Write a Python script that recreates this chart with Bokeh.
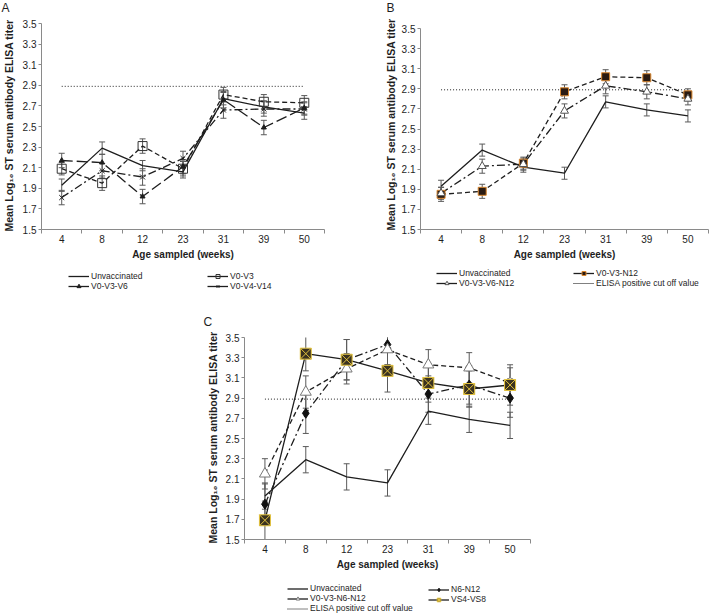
import math
from bokeh.plotting import figure
from bokeh.models import FixedTicker, PrintfTickFormatter, Legend, LegendItem, Label, Spacer
from bokeh.layouts import column, row
from bokeh.embed import file_html
from bokeh.resources import INLINE

# ---------------- data ----------------
weeks = ["4", "8", "12", "23", "31", "39", "50"]
y_ticks = [1.5, 1.7, 1.9, 2.1, 2.3, 2.5, 2.7, 2.9, 3.1, 3.3, 3.5]
cutoff = 2.89

unvaccinated = [1.93, 2.29, 2.12, 2.06, 2.77, 2.69, 2.63]
unvaccinated_err = [0.06, 0.06, 0.05, 0.06, 0.06, 0.06, 0.06]
unvaccinated_err_c = [0.13, 0.13, 0.13, 0.13, 0.13, 0.13, 0.13]

a_v0_v3 = [2.09, 1.95, 2.31, 2.09, 2.81, 2.74, 2.73]
a_v0_v3_err = [0.06, 0.07, 0.07, 0.07, 0.07, 0.07, 0.07]
a_v0_v3_v6 = [2.17, 2.15, 1.82, 2.11, 2.76, 2.49, 2.68]
a_v0_v3_v6_err = [0.07, 0.08, 0.07, 0.07, 0.08, 0.07, 0.06]
a_v0_v4_v14 = [1.81, 2.07, 2.01, 2.19, 2.66, 2.67, 2.67]
a_v0_v4_v14_err = [0.07, 0.07, 0.08, 0.07, 0.08, 0.07, 0.06]

b_v0_v3_n12 = [1.85, 1.88, 2.16, 2.87, 3.02, 3.01, 2.84]
b_v0_v3_n12_err = [0.07, 0.07, 0.06, 0.07, 0.07, 0.07, 0.06]
b_v0_v3_v6_n12 = [1.86, 2.13, 2.15, 2.68, 2.93, 2.87, 2.80]
b_v0_v3_v6_n12_err = [0.06, 0.07, 0.06, 0.07, 0.08, 0.07, 0.06]

c_n6_n12 = [1.85, 2.75, 3.28, 3.43, 2.94, 3.03, 2.90]
c_n6_n12_err = [0.20, 0.20, 0.20, 0.20, 0.18, 0.19, 0.19]
c_v0_v3_n6_n12 = [2.15, 2.96, 3.19, 3.38, 3.23, 3.20, 3.05]
c_v0_v3_n6_n12_err = [0.15, 0.16, 0.15, 0.15, 0.15, 0.15, 0.15]
c_vs4_vs8 = [1.69, 3.34, 3.28, 3.17, 3.05, 2.99, 3.03]
c_vs4_vs8_err = [0.19, 0.17, 0.20, 0.21, 0.19, 0.18, 0.20]

# ---------------- styling ----------------
FONT = "Liberation Sans"
INK = "#1e1e1e"
ERR = "#5a5a5a"
AXIS = "#8a8a8a"
YTITLE = "Mean Log\u2081\u2080 ST serum antibody ELISA titer"
NAN = [float("nan")]
xs = list(range(1, len(weeks) + 1))
bounds = [i + 0.5 for i in range(len(weeks) + 1)]


def blank_fig(w, h):
    f = figure(width=w, height=h, x_range=(0, 1), y_range=(0, 1), output_backend="svg",
               toolbar_location=None, min_border=0, x_axis_location=None,
               y_axis_location=None)
    f.frame_align = False
    f.outline_line_color = None
    f.grid.visible = False
    return f


def base_fig(width, height, bl, br, bt, bb):
    p = figure(width=width, height=height, x_range=(0.5, len(weeks) + 0.5),
               y_range=(y_ticks[0], y_ticks[-1]), output_backend="svg",
               toolbar_location=None, min_border_left=bl, min_border_right=br,
               min_border_top=bt, min_border_bottom=bb)
    p.outline_line_color = None
    p.xgrid.visible = False
    p.ygrid.visible = False
    xa = p.xaxis[0]
    xa.ticker = FixedTicker(ticks=xs, minor_ticks=bounds)
    xa.major_label_overrides = {x: w for x, w in zip(xs, weeks)}
    xa.major_tick_out = 0
    xa.major_tick_in = 0
    xa.minor_tick_out = 4
    xa.minor_tick_in = 0
    xa.axis_line_color = AXIS
    xa.minor_tick_line_color = AXIS
    xa.major_label_text_font = FONT
    xa.major_label_text_font_size = "10px"
    xa.major_label_text_color = INK
    xa.major_label_standoff = 1
    xa.axis_label = "Age sampled (weeks)"
    xa.axis_label_text_font = FONT
    xa.axis_label_text_font_style = "bold"
    xa.axis_label_text_font_size = "10px"
    xa.axis_label_text_color = INK
    xa.axis_label_standoff = 3
    ya = p.yaxis[0]
    ya.ticker = FixedTicker(ticks=y_ticks, minor_ticks=[])
    ya.formatter = PrintfTickFormatter(format="%.1f")
    ya.major_tick_out = 3
    ya.major_tick_in = 0
    ya.minor_tick_out = 0
    ya.minor_tick_in = 0
    ya.axis_line_color = AXIS
    ya.major_tick_line_color = AXIS
    ya.major_label_text_font = FONT
    ya.major_label_text_font_size = "10px"
    ya.major_label_text_color = INK
    ya.major_label_standoff = 2
    return p


def draw(p, series):
    for s in series:
        lo = [v - e for v, e in zip(s["y"], s["err"])]
        hi = [v + e for v, e in zip(s["y"], s["err"])]
        p.segment(x0=xs, y0=lo, x1=xs, y1=hi, line_color=ERR, line_width=1)
        p.scatter(x=xs + xs, y=lo + hi, marker="dash", size=6, line_color=ERR, line_width=1)
    for s in series:
        p.line(xs, s["y"], line_color=INK, line_width=1.3, line_dash=s["dash"])
    for s in series:
        if s.get("marker"):
            p.scatter(xs, s["y"], marker=s["marker"], size=s["size"],
                      fill_color=s["fill"], line_color=s["mline"], line_width=1)


def cutoff_line(p):
    p.line([xs[0], xs[-1]], [cutoff, cutoff], line_color="#222222", line_width=1,
           line_dash="1 2")


def legend_item(f, s):
    # legend swatches only (NaN data: nothing is plotted in the legend strip)
    if s is None:
        r = f.line(x=NAN, y=NAN, line_color="#000000", line_width=1, line_dash="1 1")
        return LegendItem(label="ELISA positive cut off value", renderers=[r])
    rs = [f.line(x=NAN, y=NAN, line_color=INK, line_width=1.3)]
    if s.get("marker"):
        rs.append(f.scatter(x=NAN, y=NAN, marker=s["marker"], size=s["lsize"],
                            fill_color=s["fill"], line_color=s["mline"], line_width=1))
    return LegendItem(label=s["label"], renderers=rs, index=0)


def add_legend(f, fig_h, entries, dx, top, row_h):
    items = [legend_item(f, s) for s in entries]
    h = row_h * len(items)
    lg = Legend(items=items, location=(dx, fig_h - top - h),
                label_text_font=FONT, label_text_font_size="8.5px",
                label_text_color=INK, label_height=row_h, glyph_height=row_h,
                glyph_width=21, label_standoff=2, spacing=0, padding=0, margin=0,
                border_line_color=None, background_fill_alpha=0)
    f.add_layout(lg, "center")


def letter_fig(w, h, letter, x, y):
    f = blank_fig(w, h)
    f.add_layout(Label(x=x, y=y, x_units="screen", y_units="screen", text=letter,
                       text_font=FONT, text_font_size="12px", text_color=INK,
                       text_baseline="middle", text_align="left"))
    return f


def ytitle_fig(w, h, x, y):
    f = blank_fig(w, h)
    f.add_layout(Label(x=x, y=y, x_units="screen", y_units="screen", text=YTITLE,
                       angle=math.pi / 2, text_font=FONT, text_font_size="10.5px",
                       text_font_style="bold", text_color=INK,
                       text_baseline="middle", text_align="left"))
    return f


unvac_ab = dict(label="Unvaccinated", y=unvaccinated, err=unvaccinated_err, dash="solid")

# ---------------- panel A ----------------
pA = base_fig(362, 251, 23, 56, 9, 36)
sA_v3 = dict(label="V0-V3", y=a_v0_v3, err=a_v0_v3_err, dash="5 3", marker="square",
             size=9, lsize=7, fill=None, mline="#333333")
sA_v6 = dict(label="V0-V3-V6", y=a_v0_v3_v6, err=a_v0_v3_v6_err, dash="11 4",
             marker="triangle", size=5, lsize=4, fill=INK, mline=INK)
sA_v14 = dict(label="V0-V4-V14", y=a_v0_v4_v14, err=a_v0_v4_v14_err, dash="8 3 2 3",
              marker="x", size=7, lsize=7, fill=None, mline=INK)
cutoff_line(pA)
draw(pA, [unvac_ab, sA_v3, sA_v6, sA_v14])
legA = blank_fig(380, 33)
add_legend(legA, 33, [unvac_ab, sA_v6], 68, 6, 10)
add_legend(legA, 33, [sA_v3, sA_v14], 207, 6, 10)
colA = column(letter_fig(380, 14, "A", 1, 7), row(ytitle_fig(18, 251, 8, 34), pA), legA)

# ---------------- panel B ----------------
pB = base_fig(311, 251, 21, 1, 14, 36)
sB_n12 = dict(label="V0-V3-N12", y=b_v0_v3_n12, err=b_v0_v3_n12_err, dash="5 3",
              marker="square", size=8, lsize=6, fill="#2b1b12", mline="#d9862e")
sB_v6 = dict(label="V0-V3-V6-N12", y=b_v0_v3_v6_n12, err=b_v0_v3_v6_n12_err,
             dash="8 3 2 3", marker="triangle", size=8, lsize=6, fill="white",
             mline="#555555")
cutoff_line(pB)
draw(pB, [unvac_ab, sB_n12, sB_v6])
legB = blank_fig(329, 33)
add_legend(legB, 33, [unvac_ab, sB_v6], 56, 3, 10)
add_legend(legB, 33, [sB_n12, None], 193, 3, 10)
colB = column(letter_fig(329, 14, "B", 6, 7), row(ytitle_fig(18, 251, 10, 35), pB), legB)

# ---------------- panel C ----------------
pC = base_fig(318, 247, 21, 10, 9, 36)
sC_un = dict(label="Unvaccinated", y=unvaccinated, err=unvaccinated_err_c, dash="solid")
sC_n = dict(label="N6-N12", y=c_n6_n12, err=c_n6_n12_err, dash="8 3 2 3", marker="diamond",
            size=10, lsize=8, fill="#111111", mline="#111111")
sC_v = dict(label="V0-V3-N6-N12", y=c_v0_v3_n6_n12, err=c_v0_v3_n6_n12_err, dash="5 3",
            marker="triangle", size=11, lsize=8, fill="white", mline="#777777")
sC_vs = dict(label="VS4-VS8", y=c_vs4_vs8, err=c_vs4_vs8_err, dash="solid",
             marker="square_x", size=11, lsize=9, fill="#3a3220", mline="#e3c23c")
cutoff_line(pC)
draw(pC, [sC_un, sC_n, sC_v, sC_vs])
legC = blank_fig(340, 39)
add_legend(legC, 39, [sC_un, sC_v, None], 87, 11, 9)
add_legend(legC, 39, [sC_n, sC_vs], 228, 11, 9)
colC = column(letter_fig(340, 30, "C", 3, 7), row(ytitle_fig(22, 247, 12, 32), pC), legC)

layout = column(row(colA, colB), row(Spacer(width=200, height=316), colC))

with open("out.html", "w") as f:
    f.write(file_html(layout, INLINE))
